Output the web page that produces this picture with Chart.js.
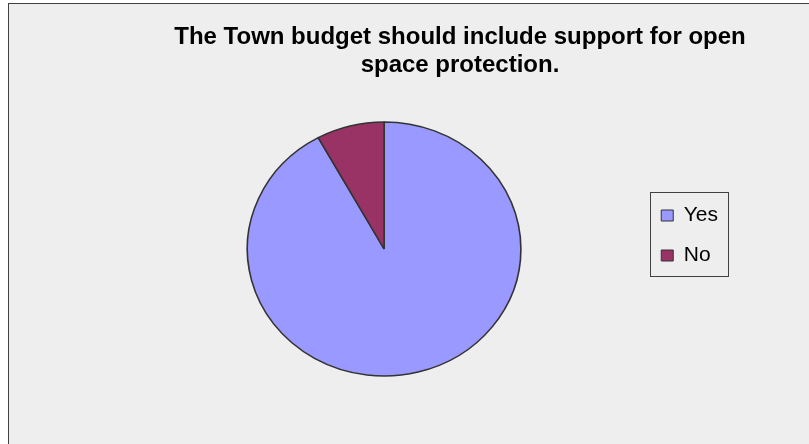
<!DOCTYPE html>
<html>
<head>
<meta charset="utf-8">
<title>Open space protection</title>
<script src="https://cdn.jsdelivr.net/npm/chart.js@4.4.1/dist/chart.umd.min.js"></script>
<style>
  html, body { margin: 0; padding: 0; background: #ffffff; overflow: hidden; }
  #frame {
    position: absolute; left: 8px; top: 3px; width: 900px; height: 500px;
    background: #eeeeee; border: 1px solid #404040;
  }
  #wrap { position: absolute; left: 0; top: 0; width: 809px; height: 444px; }
</style>
</head>
<body>
<div id="frame"></div>
<div id="wrap"><canvas id="pie"></canvas></div>
<script>
var titleLines = ["The Town budget should include support for open", "space protection."];
var answers = ["Yes", "No"];
var responses = [92, 8];
var sliceColors = ["#9999ff", "#993366"];

var FONT = "'Liberation Sans', Arial, sans-serif";

// the pie is drawn a little wider than tall
var stretchPie = {
  id: "stretchPie",
  beforeDatasetsDraw: function (chart) {
    var arc = chart.getDatasetMeta(0).data[0];
    var ctx = chart.ctx;
    ctx.save();
    ctx.translate(arc.x, 0);
    ctx.scale(1.077, 1);
    ctx.translate(-arc.x, 0);
  },
  afterDatasetsDraw: function (chart) {
    chart.ctx.restore();
  }
};

// move title and legend off the default centred spots
var placeBoxes = {
  id: "placeBoxes",
  afterLayout: function (chart) {
    var t = chart.titleBlock;
    var w = t.right - t.left;
    t.left = 460 - w / 2;
    t.right = 460 + w / 2;
    chart.legend.top += 31;
    chart.legend.bottom += 31;
  }
};

// frame round the legend items
var legendFrame = {
  id: "legendFrame",
  afterDraw: function (chart) {
    var boxes = chart.legend.legendHitBoxes;
    if (!boxes || !boxes.length) return;
    var first = boxes[0], last = boxes[boxes.length - 1];
    var x0 = Math.round(first.left - 11) + 0.5;
    var y0 = Math.round(first.top - 13) + 0.5;
    var x1 = Math.round(chart.legend.right) + 0.5;
    var y1 = Math.round(last.top + last.height + 10) + 0.5;
    var ctx = chart.ctx;
    ctx.save();
    ctx.strokeStyle = "#404040";
    ctx.lineWidth = 1;
    ctx.strokeRect(x0, y0, x1 - x0, y1 - y0);
    ctx.restore();
  }
};

var chart = new Chart(document.getElementById("pie"), {
  type: "pie",
  data: {
    labels: answers,
    datasets: [{
      data: responses,
      backgroundColor: sliceColors,
      borderColor: "#333333",
      borderWidth: 1.5,
      radius: 127
    }]
  },
  plugins: [stretchPie, placeBoxes, legendFrame],
  options: {
    responsive: true,
    maintainAspectRatio: false,
    animation: false,
    layout: {
      padding: { left: 126, right: 81, top: 0, bottom: 35 }
    },
    plugins: {
      tooltip: { enabled: false },
      title: {
        display: true,
        text: titleLines,
        color: "#000000",
        font: { family: FONT, size: 24, weight: "bold", lineHeight: 28 / 24 },
        padding: { top: 23, bottom: 10 }
      },
      legend: {
        position: "right",
        labels: {
          color: "#000000",
          font: { family: FONT, size: 21 },
          boxWidth: 12,
          boxHeight: 11,
          padding: 19,
          generateLabels: function (chart) {
            var items = Chart.overrides.pie.plugins.legend.labels.generateLabels(chart);
            items.forEach(function (it) { it.lineWidth = 1; it.strokeStyle = "#333333"; });
            return items;
          }
        }
      }
    }
  }
});
</script>
</body>
</html>
